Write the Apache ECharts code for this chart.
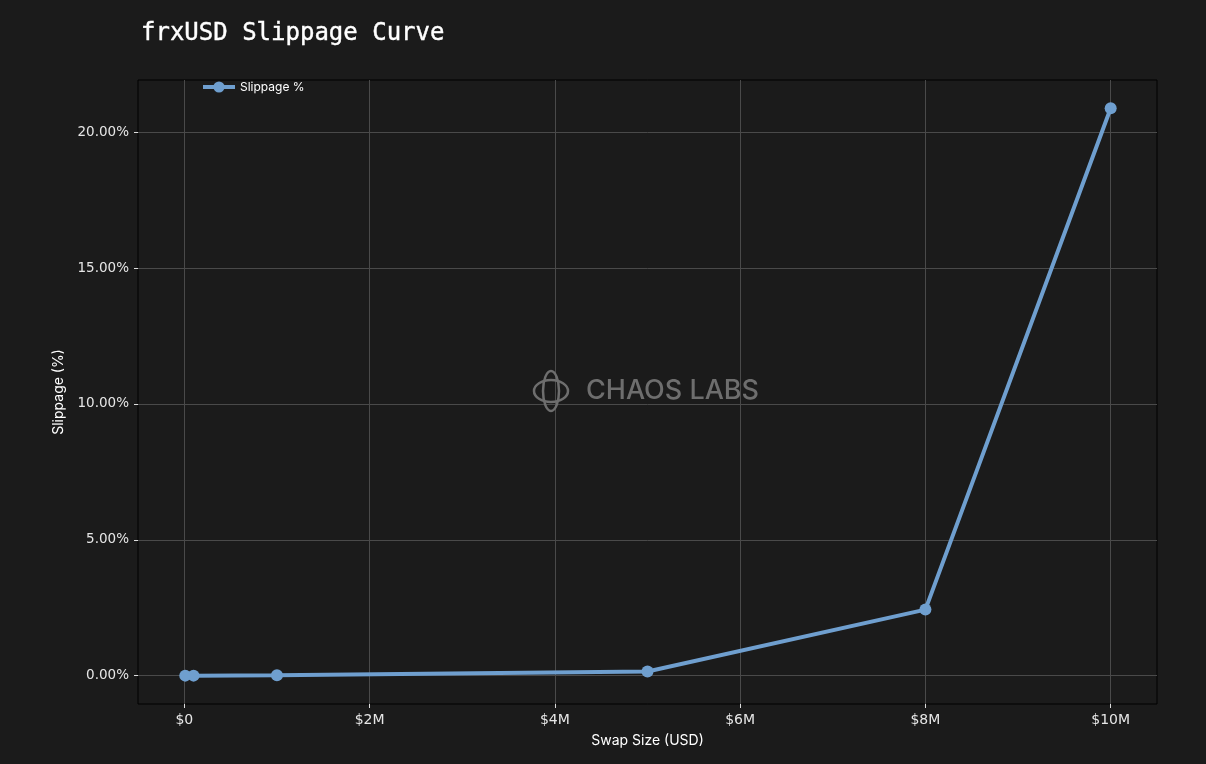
<!DOCTYPE html>
<html><head><meta charset="utf-8">
<script src="https://cdn.jsdelivr.net/npm/echarts@6/dist/echarts.min.js"></script>
<style>html,body{margin:0;padding:0;background:#1b1b1b;}#c{width:1206px;height:764px;}</style>
</head><body><div id="c"></div>
<script>
const swapSizes = [10000, 100000, 1000000, 5000000, 8000000, 10000000];
const slippagePct = [0.0, 0.0, 0.01, 0.15, 2.43, 20.88];
const xTicks = [0, 2000000, 4000000, 6000000, 8000000, 10000000];
const yTicks = [0, 5, 10, 15, 20];

const chart = echarts.init(document.getElementById('c'));
const lineColor = '#6f9fcf';
chart.setOption({
  backgroundColor: '#1b1b1b',
  animation: false,
  title: {
    text: 'frxUSD Slippage Curve', left: 136, top: 17,
    textStyle: { color: '#ffffff', fontFamily: 'DejaVu Sans Mono', fontSize: 24, fontWeight: 'normal',
      textBorderColor: '#ffffff', textBorderWidth: 0.4 }
  },
  legend: {
    left: 196, top: 76, itemWidth: 32, itemHeight: 14, itemGap: 6,
    textStyle: { color: '#ffffff', fontSize: 12, fontFamily: 'Inter' },
    lineStyle: { width: 4 },
    data: ['Slippage %']
  },
  grid: { left: 138, top: 80, right: 49, bottom: 60, show: true, borderColor: '#000', borderWidth: 1, backgroundColor: '#1b1b1b' },
  xAxis: {
    type: 'value', min: -500000, max: 10500000,
    name: 'Swap Size (USD)', nameLocation: 'middle', nameGap: 30,
    nameTextStyle: { color: '#ffffff', fontSize: 14, fontFamily: 'Inter' },
    axisLine: { show: false, onZero: false },
    axisTick: { show: true, length: 4, lineStyle: { color: '#ddd' }, customValues: xTicks },
    axisLabel: { color: '#e6e6e6', fontSize: 14, fontFamily: 'DejaVu Sans', margin: 9, customValues: xTicks,
      formatter: v => v === 0 ? '$0' : '$' + (v / 1e6) + 'M' },
    splitLine: { show: true, lineStyle: { color: '#4a4a4a', width: 1 } }
  },
  yAxis: {
    type: 'value', min: -1.044, max: 21.92,
    name: 'Slippage (%)', nameLocation: 'middle', nameGap: 72, nameRotate: 90,
    nameTextStyle: { color: '#ffffff', fontSize: 14, fontFamily: 'Inter' },
    axisLine: { show: false, onZero: false },
    axisTick: { show: true, length: 4, lineStyle: { color: '#ddd' }, customValues: yTicks },
    axisLabel: { color: '#e6e6e6', fontSize: 13.5, fontFamily: 'DejaVu Sans', margin: 9, customValues: yTicks,
      formatter: v => v.toFixed(2) + '%' },
    splitLine: { show: true, lineStyle: { color: '#4a4a4a', width: 1 } }
  },
  graphic: [
    { type: 'text', left: 586, top: 377, z: 1, silent: true,
      style: { text: 'CHAOS LABS', fill: '#6e6e6e', font: '500 27px Inter' } },
    { type: 'ellipse', shape: { cx: 551, cy: 391, rx: 8, ry: 20 }, z: 1, silent: true,
      style: { fill: 'none', stroke: '#6e6e6e', lineWidth: 2.5 } },
    { type: 'ellipse', shape: { cx: 551, cy: 391, rx: 17, ry: 11 }, z: 1, silent: true,
      style: { fill: 'none', stroke: '#6e6e6e', lineWidth: 2.5 } }
  ],
  series: [{
    name: 'Slippage %', type: 'line',
    data: swapSizes.map((x, i) => [x, slippagePct[i]]),
    symbol: 'circle', symbolSize: 12, clip: false,
    lineStyle: { color: lineColor, width: 4 },
    itemStyle: { color: lineColor },
    z: 3
  }]
});
</script></body></html>
